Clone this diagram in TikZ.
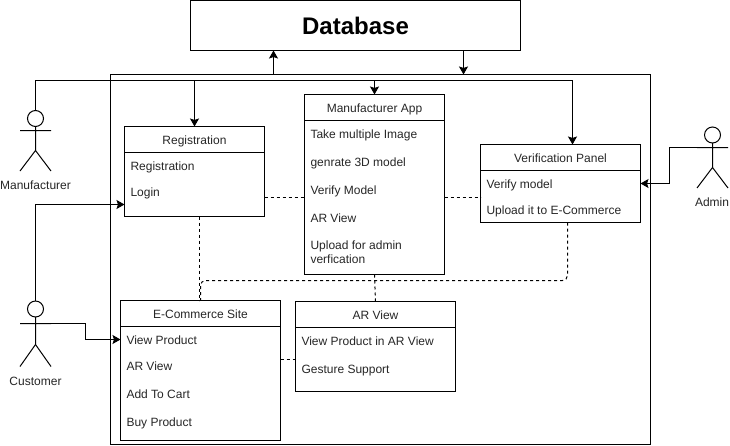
\documentclass[tikz,border=0pt]{standalone}
\usepackage{fontspec}
\setmainfont{Liberation Sans}
\usetikzlibrary{arrows.meta,positioning}

\begin{document}
\begin{tikzpicture}[x=1pt,y=-1pt,
>={Stealth[length=8pt,width=9pt,inset=1.5pt]},
line width=1pt,
font=\fontsize{12}{14}\selectfont,
every node/.style={text=black!85},
title/.style={rectangle, draw=black, outer sep=0pt, inner sep=0pt, minimum width=#1, minimum height=26pt, text height=9pt, text depth=0pt, text centered},
panel/.style 2 args={rectangle, draw=black, outer sep=0pt, inner sep=0pt, minimum width=#1, minimum height=#2},
item/.style={anchor=west, inner sep=0pt, text height=9pt, text depth=0pt},
head/.style={circle, draw=black, inner sep=0pt, outer sep=0pt, minimum size=16pt},
actor/.style={inner sep=0pt, text height=9pt, text depth=0pt},
link/.style={->},
weak/.style={dashed},
]
  \useasboundingbox (0,0) rectangle (730,445);

  \node (database) [panel={330pt}{50pt}, anchor=north west, font=\fontsize{24}{28}\selectfont\bfseries, text=black] at (190.5,0.5) {Database};
  \node (system) [panel={540pt}{370pt}, anchor=north west] at (110.5,74.5) {};

  % panels
  \node (regHead) [title=140pt, anchor=north west] at (124.5,126.5) {Registration};
  \node (regBody) [panel={140pt}{64pt}, below=0pt of regHead] {};
  \node (regItem1) [item] at (130,165.5) {Registration};
  \node (regItem2) [item] at (130,191.5) {Login};

  \node (appHead) [title=140pt, anchor=north west] at (304.5,94.5) {Manufacturer App};
  \node (appBody) [panel={140pt}{154pt}, below=0pt of appHead] {};
  \node (appItem1) [item] at (310,133.5) {Take multiple Image};
  \node (appItem2) [item] at (310,161.5) {genrate 3D model};
  \node (appItem3) [item] at (310,189.5) {Verify Model};
  \node (appItem4) [item] at (310,217.5) {AR View};
  \node (appItem5) [item, align=left, text depth=14pt] at (310,266) {Upload for admin\\verfication};

  \node (verHead) [title=160pt, anchor=north west] at (480.5,144.5) {Verification Panel};
  \node (verBody) [panel={160pt}{52pt}, below=0pt of verHead] {};
  \node (verItem1) [item] at (486,183.5) {Verify model};
  \node (verItem2) [item] at (486,209.5) {Upload it to E-Commerce};

  \node (shopHead) [title=160pt, anchor=north west] at (120.5,300.5) {E-Commerce Site};
  \node (shopBody) [panel={160pt}{114pt}, below=0pt of shopHead] {};
  \node (shopItem1) [item] at (126,339.5) {View Product};
  \node (shopItem2) [item] at (126,366) {AR View};
  \node (shopItem3) [item] at (126,393.5) {Add To Cart};
  \node (shopItem4) [item] at (126,421.5) {Buy Product};

  \node (arHead) [title=160pt, anchor=north west] at (295.5,301.5) {AR View};
  \node (arBody) [panel={160pt}{64pt}, below=0pt of arHead] {};
  \node (arItem1) [item] at (301,340.5) {View Product in AR View};
  \node (arItem2) [item] at (301,368.5) {Gesture Support};

  % actors
  \node (mfrHead) [head] at (35.5,118.5) {};
  \coordinate (mfrArmL) at (20,130.5);
  \coordinate (mfrArmR) at (51,130.5);
  \coordinate (mfrHip) at (35.5,150.5);
  \coordinate (mfrFootL) at (20,171);
  \coordinate (mfrFootR) at (51,171);
  \node (mfrLabel) [actor] at (35.5,184.5) {Manufacturer};
  \draw (mfrHead) -- (mfrHip) -- (mfrFootL) (mfrHip) -- (mfrFootR) (mfrArmL) -- (mfrArmR);

  \node (custHead) [head] at (35.5,309) {};
  \coordinate (custArmL) at (20,323.5);
  \coordinate (custArmR) at (51,323.5);
  \coordinate (custHip) at (35.5,344.5);
  \coordinate (custFootL) at (20,366.5);
  \coordinate (custFootR) at (51,366.5);
  \node (custLabel) [actor] at (35.5,380.5) {Customer};
  \draw (custHead) -- (custHip) -- (custFootL) (custHip) -- (custFootR) (custArmL) -- (custArmR);

  \node (adminHead) [head] at (712.5,135) {};
  \coordinate (adminArmL) at (697,147.5);
  \coordinate (adminArmR) at (728,147.5);
  \coordinate (adminHip) at (712.5,167.5);
  \coordinate (adminFootL) at (697,188);
  \coordinate (adminFootR) at (728,188);
  \node (adminLabel) [actor] at (712,201.5) {Admin};
  \draw (adminHead) -- (adminHip) -- (adminFootL) (adminHip) -- (adminFootR) (adminArmL) -- (adminArmR);

  % database links
  \coordinate (dbUp) at (273.5,74.5);
  \coordinate (dbDown) at (463.5,74.5);
  \draw[link] (dbUp) -- (dbUp |- database.south);
  \draw[link] (dbDown |- database.south) -- (dbDown);

  % actor links
  \coordinate (bus) at (572.5,80.5);
  \coordinate (verTop) at (572.5,144.5);
  \coordinate (custEntry) at (124.5,204.5);
  \coordinate (custTurn) at (85.5,339.5);
  \coordinate (adminTurn) at (669.5,183.5);
  \draw[link] (mfrHead.north) |- (bus) -- (verTop);
  \draw[link] (regHead.north |- bus) -- (regHead.north);
  \draw[link] (appHead.north |- bus) -- (appHead.north);
  \draw[link] (custHead.north) |- (custEntry);
  \draw[link] (custArmR) -| (custTurn) -- (shopBody.west |- custTurn);
  \draw[link] (adminArmL) -| (adminTurn) -- (verBody.east |- adminTurn);

  % dashed links
  \coordinate (regDrop) at (199.5,216.5);
  \coordinate (shopTop) at (199.5,300.5);
  \coordinate (verDrop) at (567.5,222.5);
  \coordinate (dashTurn) at (200.5,280.5);
  \coordinate (dashMid) at (0,197.5);
  \coordinate (shopSide) at (0,359.5);
  \draw[weak] (regBody.east |- dashMid) -- (appBody.west |- dashMid);
  \draw[weak] (appBody.east |- dashMid) -- (verBody.west |- dashMid);
  \draw[weak] (regDrop) -- (shopTop);
  \draw[weak, rounded corners=5pt] (verDrop) |- (dashTurn) -- (shopHead.north);
  \draw[weak] (appBody.south) -- (arHead.north);
  \draw[weak] (shopBody.east |- shopSide) -- (arBody.west |- shopSide);
\end{tikzpicture}
\end{document}
